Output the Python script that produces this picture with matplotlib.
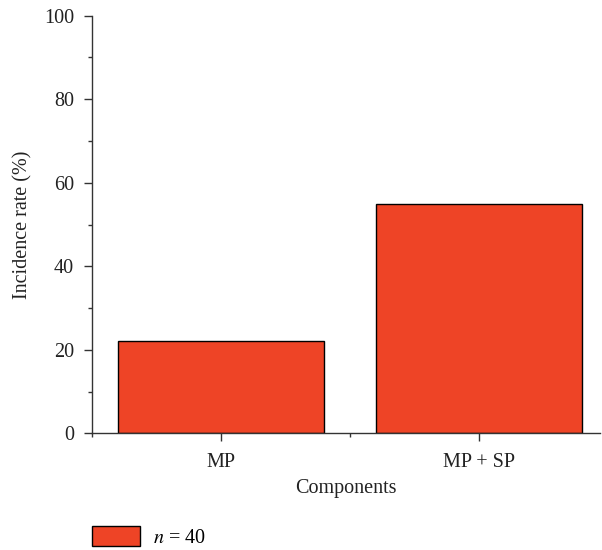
import matplotlib
matplotlib.use("Agg")
import matplotlib.pyplot as plt
from matplotlib.patches import Patch
from matplotlib.ticker import MultipleLocator, FixedLocator

# data
categories = ["MP", "MP + SP"]
incidence = [22, 55]
legend_label = "$n$ = 40"

plt.rcParams.update({
    "font.family": ["Liberation Serif", "DejaVu Serif"],
    "mathtext.fontset": "stix",
    "font.size": 14.5,
})

bar_color = "#EE4426"
axis_color = "#333333"
fs = 14.5

fig = plt.figure(figsize=(6.02, 5.5), dpi=100)
ax = fig.add_axes([92 / 602, 1 - 433.3 / 550, 508 / 602, (433.3 - 15.7) / 550])

x = list(range(len(categories)))
ax.bar(x, incidence, width=0.8, color=bar_color, edgecolor="black", linewidth=1.0)

ax.set_xlim(-0.5, 1.47)
ax.set_ylim(0, 100)
ax.set_xticks(x)
ax.set_xticklabels(categories)
ax.xaxis.set_minor_locator(FixedLocator([-0.5, 0.5]))
ax.yaxis.set_major_locator(MultipleLocator(20))
ax.yaxis.set_minor_locator(MultipleLocator(10))

for side in ["top", "right"]:
    ax.spines[side].set_visible(False)
for side in ["left", "bottom"]:
    ax.spines[side].set_color(axis_color)
    ax.spines[side].set_linewidth(1.0)

ax.tick_params(which="major", direction="out", length=6, width=1.0, color=axis_color,
               labelcolor="#222222", labelsize=fs, pad=7)
ax.tick_params(which="minor", direction="out", length=3, width=1.0, color=axis_color)
ax.tick_params(axis="x", which="major", pad=8)

ax.set_xlabel("Components", fontsize=fs, color="#222222", labelpad=5)
ax.set_ylabel("Incidence rate (%)", fontsize=fs, color="#222222", labelpad=8)

handle = Patch(facecolor=bar_color, edgecolor="black", linewidth=1.0)
fig.legend(handles=[handle], labels=[legend_label], loc="lower left",
           bbox_to_anchor=(92 / 602, 2 / 550), frameon=False, borderpad=0,
           borderaxespad=0, handlelength=2.4, handleheight=1.1, handletextpad=0.65,
           fontsize=fs)

fig.savefig("out.png", dpi=100)
